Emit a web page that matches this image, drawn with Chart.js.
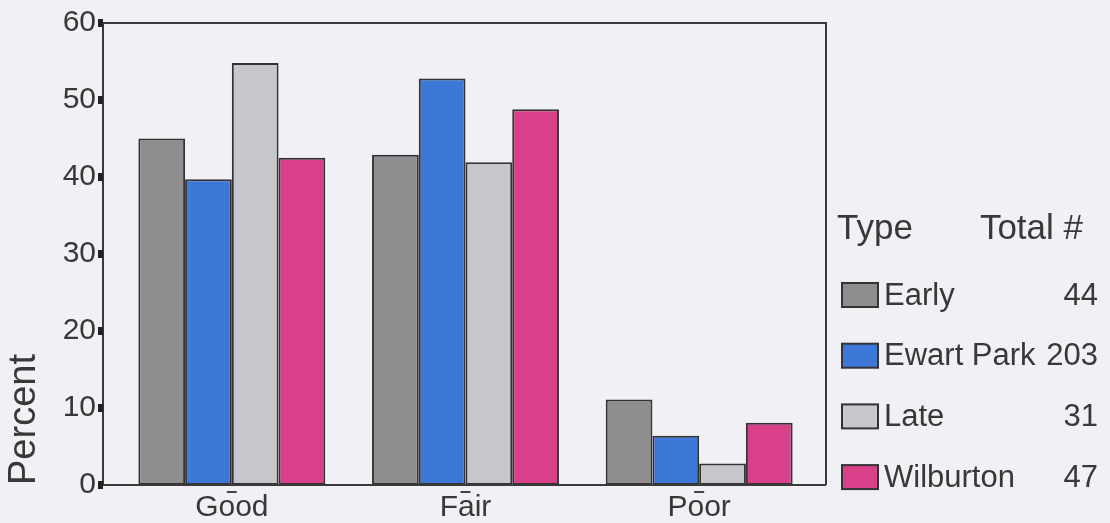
<!DOCTYPE html>
<html>
<head>
<meta charset="utf-8">
<script src="https://cdn.jsdelivr.net/npm/chart.js@4"></script>
<style>
  body { margin: 0; background: #f1f1f5; }
  #wrap { width: 1110px; height: 523px; }
</style>
</head>
<body>
<div id="wrap"><canvas id="myChart"></canvas></div>
<script>
// categories and series (percent)
var qualities = ['Good', 'Fair', 'Poor'];
var types = ['Early', 'Ewart Park', 'Late', 'Wilburton'];
var totals = [44, 203, 31, 47];
var early = [45.0, 42.9, 11.1];
var ewartPark = [39.7, 52.8, 6.4];
var late = [54.8, 41.9, 2.8];
var wilburton = [42.5, 48.8, 8.1];
var yTicks = [0, 10, 20, 30, 40, 50, 60];

var colors = ['#8e8e91', '#3d78d8', '#c6c6cd', '#d8408a'];
var fontFam = '"Liberation Sans", Arial, sans-serif';
var ink = '#383838';

var ctx = document.getElementById('myChart').getContext('2d');

// background, frame, tick marks and the two-column legend
var extras = {
    id: 'extras',
    beforeDraw: function(chart) {
        var c = chart.ctx;
        c.save();
        c.fillStyle = '#f1f1f5';
        c.fillRect(0, 0, chart.width, chart.height);
        c.restore();
    },
    afterDatasetsDraw: function(chart) {
        var c = chart.ctx;
        var a = chart.chartArea;
        var y = chart.scales.y;
        var x = chart.scales.x;
        var left = a.left - 12, right = a.right + 10;
        c.save();
        c.strokeStyle = '#3a3a3a';
        c.lineWidth = 2;
        c.beginPath();
        c.moveTo(left, a.bottom);
        c.lineTo(left, a.top);
        c.lineTo(right, a.top);
        c.lineTo(right, a.bottom);
        c.moveTo(left - 2, a.bottom);
        c.lineTo(right, a.bottom);
        c.stroke();
        // little square tick marks on the y axis
        c.fillStyle = '#222';
        yTicks.forEach(function(v) {
            var py = y.getPixelForValue(v);
            c.fillRect(left - 5, py - 4, 5, 8);
        });
        // little dashes under the x axis
        c.strokeStyle = '#444';
        c.lineWidth = 2;
        qualities.forEach(function(q, i) {
            var px = x.getPixelForTick(i);
            c.beginPath();
            c.moveTo(px - 5, a.bottom + 7);
            c.lineTo(px + 5, a.bottom + 7);
            c.stroke();
        });

        // legend
        c.fillStyle = ink;
        c.textBaseline = 'middle';
        c.font = '35px ' + fontFam;
        c.textAlign = 'left';
        c.fillText('Type', 837, 229);
        c.textAlign = 'right';
        c.fillText('Total #', 1083, 229);
        c.font = '31px ' + fontFam;
        types.forEach(function(t, i) {
            var cy = 295 + i * 60.7;
            c.fillStyle = colors[i];
            c.fillRect(842, cy - 12, 36, 24);
            c.strokeStyle = '#333';
            c.lineWidth = 2;
            c.strokeRect(842, cy - 12, 36, 24);
            c.fillStyle = ink;
            c.textAlign = 'left';
            c.fillText(t, 884, cy + 1);
            c.textAlign = 'right';
            c.fillText(String(totals[i]), 1098, cy + 1);
        });
        c.restore();
    }
};

var seriesData = [early, ewartPark, late, wilburton];

var myChart = new Chart(ctx, {
    type: 'bar',
    data: {
        labels: qualities,
        datasets: types.map(function(t, i) {
            return {
                label: t,
                data: seriesData[i],
                backgroundColor: colors[i],
                borderColor: '#333333',
                borderWidth: 2,
                borderSkipped: false,
                categoryPercentage: 0.8,
                barPercentage: 1.0
            };
        })
    },
    plugins: [extras],
    options: {
        responsive: true,
        maintainAspectRatio: false,
        animation: false,
        layout: { padding: { left: 0, top: 23, right: 294, bottom: 0 } },
        plugins: {
            legend: { display: false },
            tooltip: { enabled: false }
        },
        scales: {
            x: {
                grid: { display: false, drawTicks: false },
                border: { display: false },
                ticks: {
                    color: ink,
                    font: { family: fontFam, size: 30 },
                    padding: 5,
                    maxRotation: 0
                },
                afterFit: function(scale) {
                    scale.height = 38;
                    scale.paddingLeft = 0;
                    scale.paddingRight = 0;
                }
            },
            y: {
                min: 0,
                max: 60,
                grid: { display: false, drawTicks: false },
                border: { display: false },
                ticks: {
                    stepSize: 10,
                    color: ink,
                    font: { family: fontFam, size: 30 },
                    padding: 19
                },
                title: {
                    display: true,
                    text: 'Percent',
                    align: 'start',
                    color: ink,
                    font: { family: fontFam, size: 38, lineHeight: 1 },
                    padding: { top: 6, bottom: 0 }
                },
                afterFit: function(scale) {
                    scale.width = 115;
                    scale.paddingTop = 0;
                    scale.paddingBottom = 0;
                }
            }
        }
    }
});
</script>
</body>
</html>
